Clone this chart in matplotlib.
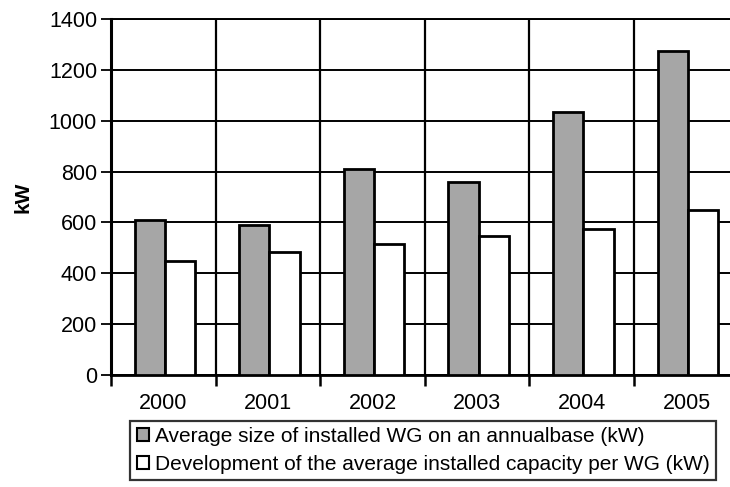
import matplotlib
matplotlib.use("Agg")
import matplotlib.pyplot as plt
from matplotlib.patches import Patch
import numpy as np

plt.rcParams['font.family'] = ['Liberation Sans', 'DejaVu Sans']

years = ['2000', '2001', '2002', '2003', '2004', '2005']
avg_size_annual = [610, 590, 810, 757, 1035, 1273]
avg_capacity_dev = [447, 484, 517, 546, 576, 648]
y_ticks = [0, 200, 400, 600, 800, 1000, 1200, 1400]

label_annual = 'Average size of installed WG on an annualbase (kW)'
label_dev = 'Development of the average installed capacity per WG (kW)'

fig = plt.figure(figsize=(7.30, 4.87), dpi=100)
ax = fig.add_axes([0.152, 0.230, 0.860, 0.731])

x = np.arange(len(years))
w = 0.29
gray = '#a6a6a6'
ax.bar(x - w / 2 + 0.015, avg_size_annual, width=w, color=gray,
       edgecolor='black', linewidth=2.0, zorder=3)
ax.bar(x + w / 2 + 0.015, avg_capacity_dev, width=w, color='white',
       edgecolor='black', linewidth=2.0, zorder=3)

ax.set_xlim(-0.5, len(years) - 0.5)
ax.set_ylim(0, 1400)
ax.set_yticks(y_ticks)
ax.set_yticklabels([str(v) for v in y_ticks], fontsize=15.5)
ax.set_xticks(x)
ax.set_xticklabels(years, fontsize=15.5)
ax.tick_params(axis='x', which='major', length=0, pad=13)
ax.set_xticks(np.arange(len(years) + 1) - 0.5, minor=True)
ax.tick_params(axis='x', which='minor', length=8, width=1.8, direction='out')
ax.tick_params(axis='y', length=7, width=1.3, direction='out', pad=3)

ax.grid(True, axis='y', which='major', color='black', linewidth=1.4, zorder=0)
ax.grid(True, axis='x', which='minor', color='black', linewidth=1.6, zorder=0)

for side in ['top', 'right']:
    ax.spines[side].set_linewidth(1.4)
ax.spines['left'].set_linewidth(2.2)
ax.spines['bottom'].set_linewidth(2.0)

ax.set_ylabel('kW', fontsize=15, fontweight='bold', labelpad=12)

handles = [Patch(facecolor=gray, edgecolor='black', linewidth=1.5, label=label_annual),
           Patch(facecolor='white', edgecolor='black', linewidth=1.5, label=label_dev)]
leg = fig.legend(handles=handles, loc='lower left', bbox_to_anchor=(0.170, 0.002),
                 fontsize=15, frameon=True, fancybox=False, edgecolor='black',
                 handlelength=0.6, handleheight=0.6, handletextpad=0.3,
                 borderpad=0.3, labelspacing=0.4, borderaxespad=0.3)
leg.get_frame().set_linewidth(1.6)

fig.savefig('out.png', dpi=100)
